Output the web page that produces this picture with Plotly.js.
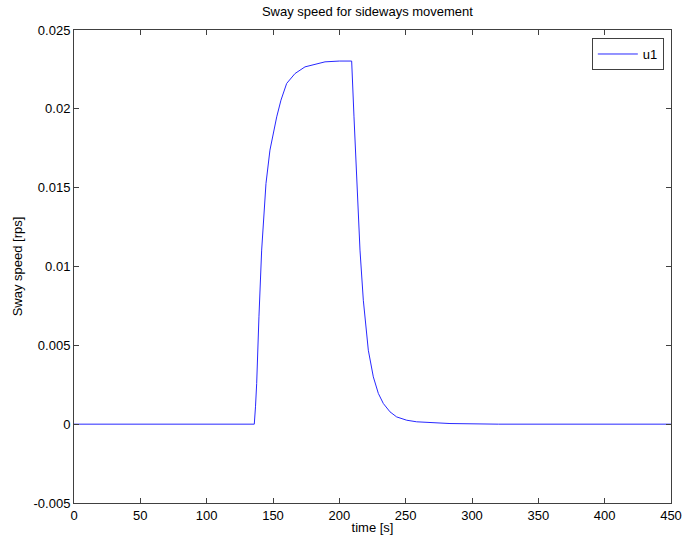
<!DOCTYPE html>
<html>
<head>
<meta charset="utf-8">
<script src="https://cdn.plot.ly/plotly-3.0.1.min.js"></script>
<style>html,body{margin:0;padding:0;background:#fff;}#chart{width:683px;height:541px;}</style>
</head>
<body>
<div id="chart"></div>
<script>
// time [s]
const timeS = [0, 50, 100, 135.9, 136.8, 137.7, 139.4, 141.45, 144.7, 147.7, 152.8, 156.0, 160.3, 166.6, 174.1, 189.2, 200, 209.3,
  211.05, 213.06, 215.57, 218.08, 221.85, 225.62, 229.4, 233.16, 238.2, 243.2, 250.8, 258.3, 283.4, 320, 450];
// sway speed [rps]
const swaySpeed = [0, 0, 0, 0, 0.0011, 0.00258, 0.00681, 0.01104, 0.01526, 0.01738, 0.01949, 0.02055, 0.02161, 0.02224, 0.02266, 0.02298, 0.02303, 0.02303,
  0.01949, 0.01526, 0.01104, 0.00786, 0.00469, 0.0030, 0.00195, 0.00131, 0.00078, 0.00046, 0.00025, 0.00015, 0.00004, 0, 0];
const seriesName = 'u1';
const xTickVals = [0, 50, 100, 150, 200, 250, 300, 350, 400, 450];
const yTickVals = [-0.005, 0, 0.005, 0.01, 0.015, 0.02, 0.025];
const yTickText = ['-0.005', '0', '0.005', '0.01', '0.015', '0.02', '0.025'];

const fontFam = 'Liberation Sans, Arial, sans-serif';
const axisColor = '#404040';
const fs = 13;

const trace = {
  x: timeS, y: swaySpeed, type: 'scatter', mode: 'lines', name: seriesName,
  line: {color: 'rgb(40,40,255)', width: 1}
};

const layout = {
  width: 683, height: 541,
  margin: {l: 74, r: 12, t: 30, b: 38, pad: 0},
  paper_bgcolor: '#fff', plot_bgcolor: '#fff',
  font: {family: fontFam, size: fs, color: '#000'},
  title: {text: 'Sway speed for sideways movement', x: 0.538, xanchor: 'center', y: 0.978, yanchor: 'middle', font: {family: fontFam, size: fs, color: '#000'}},
  showlegend: true,
  legend: {x: 0.988, xanchor: 'right', y: 0.983, yanchor: 'top', bgcolor: '#fff', bordercolor: axisColor, borderwidth: 1,
    font: {family: fontFam, size: fs, color: '#000'}, tracegroupgap: 0, itemwidth: 40},
  xaxis: {
    range: [0, 450], tickvals: xTickVals, ticktext: xTickVals.map(String),
    ticks: 'inside', ticklen: 5, tickcolor: axisColor, tickwidth: 1,
    showline: true, linecolor: axisColor, linewidth: 1, mirror: 'ticks',
    showgrid: false, zeroline: false,
    title: {text: 'time [s]', standoff: 1, font: {family: fontFam, size: fs, color: '#000'}},
    tickfont: {family: fontFam, size: fs, color: '#000'}
  },
  yaxis: {
    range: [-0.005, 0.025], tickvals: yTickVals, ticktext: yTickText,
    ticks: 'inside', ticklen: 5, tickcolor: axisColor, tickwidth: 1,
    showline: true, linecolor: axisColor, linewidth: 1, mirror: 'ticks',
    showgrid: false, zeroline: false,
    title: {text: 'Sway speed [rps]', standoff: 7, font: {family: fontFam, size: fs, color: '#000'}},
    tickfont: {family: fontFam, size: fs, color: '#000'}
  }
};

Plotly.newPlot('chart', [trace], layout, {displayModeBar: false, staticPlot: true});
</script>
</body>
</html>
